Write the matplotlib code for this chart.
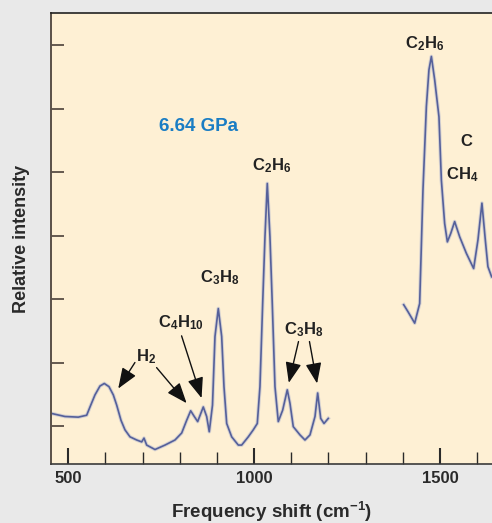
import matplotlib
matplotlib.use("Agg")
from matplotlib import pyplot as plt

plt.rcParams["font.family"] = ["Liberation Sans", "DejaVu Sans"]
plt.rcParams["mathtext.fontset"] = "custom"
plt.rcParams["mathtext.rm"] = "Liberation Sans:bold"
plt.rcParams["mathtext.it"] = "Liberation Sans:bold"
plt.rcParams["mathtext.bf"] = "Liberation Sans:bold"

# spectrum, low-frequency window
seg1_x = [453.5, 491.1, 526.9, 549.5, 558.4, 571.8, 585.3, 596.9, 609.5, 621.1,
          630.2, 641.8, 652.5, 666.0, 684.0, 697.5, 703.7, 710.9, 733.3, 760.2,
          787.1, 805.1, 818.5, 829.3, 839.0, 848.1, 863.2, 872.3, 879.3, 888.0,
          894.7, 903.6, 912.7, 918.9, 926.2, 939.6, 957.4, 966.5, 984.3, 997.7,
          1008.5, 1015.7, 1023.0, 1029.2, 1035.4, 1042.6, 1048.8, 1056.1, 1065.0,
          1076.8, 1089.2, 1096.4, 1105.3, 1123.4, 1136.8, 1150.3, 1163.8, 1171.0,
          1179.1, 1188.0, 1199.5]
seg1_y = [1.20, 1.15, 1.14, 1.17, 1.30, 1.49, 1.63, 1.67, 1.62, 1.49,
          1.33, 1.09, 0.94, 0.83, 0.78, 0.75, 0.81, 0.70, 0.63, 0.70,
          0.78, 0.89, 1.09, 1.24, 1.15, 1.07, 1.30, 1.15, 0.91, 1.33,
          2.41, 2.85, 2.41, 1.62, 1.04, 0.83, 0.70, 0.70, 0.83, 0.94,
          1.04, 1.62, 2.93, 3.98, 4.82, 3.98, 2.93, 1.62, 1.07,
          1.25, 1.57, 1.36, 0.99, 0.86, 0.78, 0.86, 1.15, 1.52,
          1.12, 1.04, 1.12]

# spectrum, high-frequency window
seg2_x = [1402.4, 1414.0, 1432.0, 1445.4, 1454.3, 1463.4, 1470.4, 1476.9, 1485.8,
          1497.3, 1503.8, 1512.6, 1519.9, 1528.8, 1539.5, 1553.0, 1571.0, 1590.6,
          1602.2, 1612.9, 1622.0, 1629.0, 1639.0]
seg2_y = [2.91, 2.80, 2.62, 2.93, 4.72, 6.03, 6.61, 6.82, 6.45,
          5.87, 4.87, 4.19, 3.90, 4.03, 4.22, 3.98, 3.72, 3.48,
          3.93, 4.51, 3.93, 3.51, 3.35]

xticks_major = [500, 1000, 1500]
xticks_minor = [600, 700, 800, 900, 1100, 1200, 1300, 1400, 1600]
yticks = [1, 2, 3, 4, 5, 6, 7]

# (text, x, y) of species labels
labels = [
    ("C$_2$H$_6$", 1458.9, 7.02),
    ("C$_2$H$_6$", 1047.6, 5.10),
    ("CH$_4$", 1561.0, 4.96),
    ("C$_3$H$_8$", 907.8, 3.33),
    ("C$_4$H$_{10}$", 802.4, 2.62),
    ("H$_2$", 708.3, 2.09),
    ("C$_3$H$_8$", 1134.1, 2.52),
]
# arrows: (start x, start y, tip x, tip y)
arrows = [
    (679.3, 2.00, 634.4, 1.59),
    (737.6, 1.92, 818.3, 1.36),
    (804.8, 2.42, 858.6, 1.44),
    (1119.4, 2.33, 1093.3, 1.68),
    (1148.9, 2.33, 1169.4, 1.67),
]

fig = plt.figure(figsize=(4.92, 5.23), dpi=100, facecolor="#e9e9e9")
ax = fig.add_axes([51 / 492, 59 / 523, 1 - 51 / 492, 451 / 523])
ax.set_facecolor("#fef0d4")

for xs, ys in [(seg1_x, seg1_y), (seg2_x, seg2_y)]:
    ax.plot(xs, ys, color="#b9bccf", lw=2.6, alpha=0.6, solid_joinstyle="round")
    ax.plot(xs, ys, color="#55609a", lw=1.2, solid_joinstyle="round")

ax.set_xlim(453.5, 1640)
ax.set_ylim(0.402, 7.504)

ax.set_xticks(xticks_major)
ax.set_xticklabels([str(t) for t in xticks_major])
ax.set_xticks(xticks_minor, minor=True)
ax.set_yticks(yticks)
ax.set_yticklabels([])
ax.tick_params(axis="x", which="major", direction="in", length=11.5, width=1.5,
               color="#2a2a2a", pad=5, labelsize=12, labelcolor="#2a2a2a")
ax.tick_params(axis="x", which="minor", direction="in", length=8.5, width=1.0,
               color="#2a2a2a")
ax.tick_params(axis="y", direction="in", length=9.5, width=1.2, color="#4a4038")
for t in ax.get_xticklabels():
    t.set_fontweight("bold")

ax.spines["right"].set_visible(False)
ax.spines["top"].set_color("#222222")
ax.spines["top"].set_linewidth(1.2)
ax.spines["bottom"].set_color("#3a3a3a")
ax.spines["bottom"].set_linewidth(1.2)
ax.spines["left"].set_color("#5a5048")
ax.spines["left"].set_linewidth(1.4)

ax.set_xlabel("Frequency shift (cm$^{-1}$)", fontsize=13.5, fontweight="bold",
              color="#2a2a2a", labelpad=10)
ax.set_ylabel("Relative intensity", fontsize=13, fontweight="bold",
              color="#2a2a2a", labelpad=11.5)

ax.text(849.2, 5.71, "6.64 GPa", fontsize=13.5, fontweight="bold",
        color="#1a7dc4", ha="center", va="center")

for txt, x, y in labels:
    ax.text(x, y, txt, fontsize=12, fontweight="bold", color="#222222",
            ha="center", va="center")
ax.text(1553.8, 5.48, "C", fontsize=12, fontweight="bold", color="#222222",
        ha="left", va="center")

for x0, y0, x1, y1 in arrows:
    ax.annotate("", xy=(x1, y1), xytext=(x0, y0),
                arrowprops=dict(arrowstyle="-|>,head_length=0.9,head_width=0.35",
                                color="#111111", lw=1.0, shrinkA=0, shrinkB=0,
                                mutation_scale=14))

fig.savefig("out.png", dpi=100, facecolor=fig.get_facecolor())
